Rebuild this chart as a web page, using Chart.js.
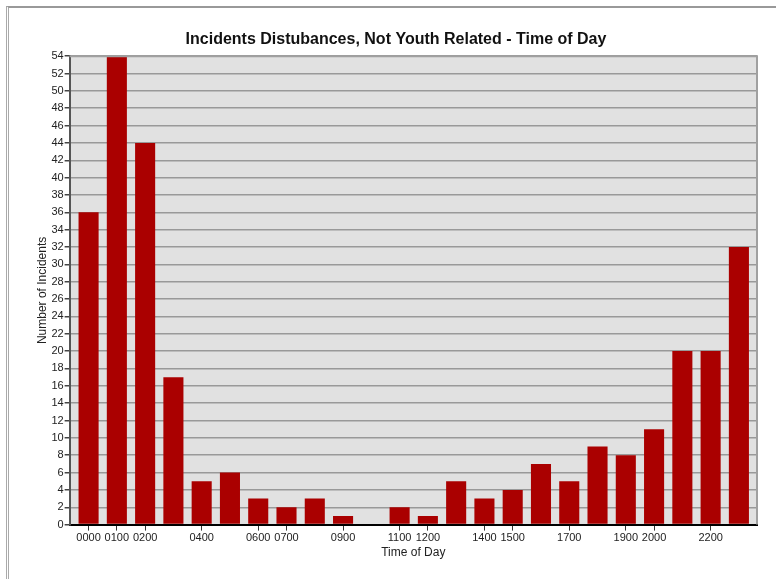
<!DOCTYPE html>
<html>
<head>
<meta charset="utf-8">
<script src="https://cdn.jsdelivr.net/npm/chart.js@4/dist/chart.umd.min.js"></script>
<style>
  html, body { margin: 0; padding: 0; background: #fff; }
  #wrap { position: relative; width: 776px; height: 579px; overflow: hidden; }
  #frame { position: absolute; left: 6px; top: 6px; right: 0; bottom: 0;
           border-left: 3px double #aaa; border-top: 2px solid #999; }
  #c { position: absolute; left: 0; top: 0; }
</style>
</head>
<body>
<div id="wrap">
  <div id="frame"></div>
  <canvas id="c" width="776" height="579"></canvas>
</div>
<script>
// du lieu doc tu hinh
const categories = ['0000','0100','0200','0300','0400','0500','0600','0700','0800','0900','1000','1100',
                    '1200','1300','1400','1500','1600','1700','1800','1900','2000','2100','2200','2300'];
const incidents = [36, 54, 44, 17, 5, 6, 3, 2, 3, 1, 0, 2, 1, 5, 3, 4, 7, 5, 9, 8, 11, 20, 20, 32];
// nhan hien thi tren truc x (mot so bi an)
const tickLabels = ['0000','0100','0200','','0400','','0600','0700','','0900','','1100',
                    '1200','','1400','1500','','1700','','1900','2000','','2200',''];

// nen xam + vien phai/tren cua vung ve
const plotBox = {
    id: 'plotBox',
    beforeDraw(chart) {
        const a = chart.chartArea, ctx = chart.ctx;
        ctx.save();
        ctx.fillStyle = '#e1e1e1';
        ctx.fillRect(a.left, a.top, a.right - a.left, a.bottom - a.top);
        ctx.restore();
    },
    afterDraw(chart) {
        const a = chart.chartArea, ctx = chart.ctx;
        ctx.save();
        ctx.strokeStyle = '#a0a0a0';
        ctx.lineWidth = 2;
        ctx.beginPath();
        ctx.moveTo(a.left, a.top);
        ctx.lineTo(a.right, a.top);
        ctx.lineTo(a.right, a.bottom);
        ctx.stroke();
        ctx.restore();
    }
};

const ctx = document.getElementById('c').getContext('2d');
new Chart(ctx, {
    type: 'bar',
    data: {
        datasets: [{
            label: 'Number of Incidents',
            data: incidents.map((v, i) => ({ x: i, y: v })),
            backgroundColor: '#aa0000',
            borderWidth: 0,
            barPercentage: 0.71,
            categoryPercentage: 1
        }]
    },
    options: {
        responsive: false,
        animation: false,
        layout: { padding: { left: 35, right: 19, top: 30, bottom: 19 } },
        plugins: {
            legend: { display: false },
            tooltip: { enabled: false },
            title: {
                display: true,
                text: 'Incidents Distubances, Not Youth Related - Time of Day',
                color: '#111',
                font: { family: 'Liberation Sans, Arial', size: 16, weight: 'bold' },
                padding: { top: 0, bottom: 7 }
            }
        },
        scales: {
            x: {
                type: 'linear',
                min: -0.67,
                max: 23.64,
                offset: false,
                afterBuildTicks(scale) {
                    scale.ticks = categories.map((c, i) => ({ value: i }));
                },
                ticks: {
                    autoSkip: false,
                    maxRotation: 0,
                    color: '#222',
                    font: { family: 'Liberation Sans, Arial', size: 11, lineHeight: 1 },
                    padding: 2,
                    callback: (v) => tickLabels[v] || ''
                },
                grid: {
                    offset: false,
                    drawOnChartArea: false,
                    tickLength: 6,
                    color: (c) => (c.tick && tickLabels[c.tick.value]) ? '#333' : 'rgba(0,0,0,0)'
                },
                border: { color: '#000', width: 2 },
                title: {
                    display: true,
                    text: 'Time of Day',
                    color: '#222',
                    font: { family: 'Liberation Sans, Arial', size: 12 },
                    padding: { top: 0, bottom: 0 }
                }
            },
            y: {
                min: 0,
                max: 54,
                ticks: {
                    stepSize: 2,
                    color: '#222',
                    font: { family: 'Liberation Sans, Arial', size: 11 },
                    padding: 1
                },
                grid: {
                    color: '#999',
                    lineWidth: 1.5,
                    tickColor: '#444',
                    tickLength: 5
                },
                border: { color: '#555', width: 2 },
                title: {
                    display: true,
                    text: 'Number of Incidents',
                    color: '#222',
                    font: { family: 'Liberation Sans, Arial', size: 12 },
                    padding: { top: 0, bottom: 1 }
                }
            }
        }
    },
    plugins: [plotBox]
});
</script>
</body>
</html>
